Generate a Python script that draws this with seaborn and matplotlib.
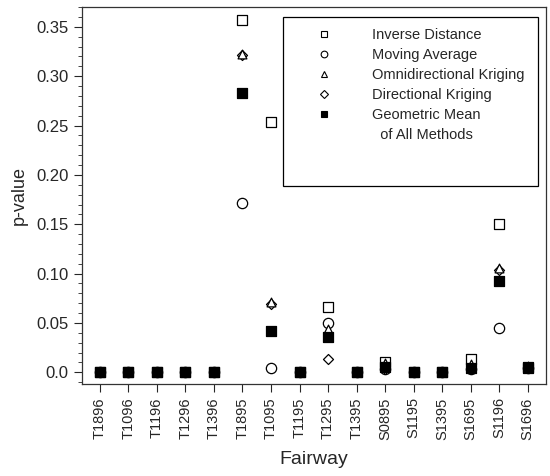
import numpy as np
import pandas as pd
import matplotlib
matplotlib.use("Agg")
import matplotlib.pyplot as plt
import seaborn as sns
from matplotlib.ticker import MultipleLocator, FixedLocator, FixedFormatter
from matplotlib.lines import Line2D
from matplotlib.patches import Rectangle

sns.set_style("ticks")
plt.rcParams["font.family"] = ["Liberation Sans", "DejaVu Sans"]

fairways = ["T1896", "T1096", "T1196", "T1296", "T1396", "T1895", "T1095", "T1195",
            "T1295", "T1395", "S0895", "S1195", "S1395", "S1695", "S1196", "S1696"]
inverse_distance = [0.0, 0.0, 0.0, 0.0, 0.0, 0.357, 0.254, 0.0,
                    0.066, 0.0, 0.010, 0.0, 0.0, 0.013, 0.150, 0.005]
moving_average = [0.0, 0.0, 0.0, 0.0, 0.0, 0.172, 0.004, 0.0,
                  0.050, 0.0, 0.003, 0.0, 0.0, 0.003, 0.045, 0.004]
omni_kriging = [0.0, 0.0, 0.0, 0.0, 0.0, 0.323, 0.071, 0.0,
                0.044, 0.0, 0.009, 0.0, 0.0, 0.008, 0.106, 0.006]
dir_kriging = [0.0, 0.0, 0.0, 0.0, 0.0, 0.321, 0.069, 0.0,
               0.013, 0.0, 0.003, 0.0, 0.0, 0.003, 0.104, 0.004]
geo_mean = [0.0, 0.0, 0.0, 0.0, 0.0, 0.283, 0.042, 0.0,
            0.036, 0.0, 0.005, 0.0, 0.0, 0.004, 0.093, 0.004]

# label, values, marker, face colour, marker area, draw order
series = [
    ("Inverse Distance", inverse_distance, "s", "white", 55, 3),
    ("Moving Average", moving_average, "o", "white", 55, 3),
    ("Omnidirectional Kriging", omni_kriging, "^", "white", 40, 3.2),
    ("Directional Kriging", dir_kriging, "D", "white", 26, 3.1),
    ("Geometric Mean", geo_mean, "s", "black", 60, 3.5),
]

fig = plt.figure(figsize=(5.5, 4.76), dpi=100)
ax = fig.add_axes([0.149, 0.193, 0.844, 0.792])

handles = []
for label, vals, mk, fc, size, z in series:
    df = pd.DataFrame({"Fairway": fairways, "p": vals})
    sns.scatterplot(data=df, x="Fairway", y="p", marker=mk, s=size, color=fc,
                    edgecolor="black", linewidth=0.9, ax=ax, legend=False, zorder=z)
    handles.append(Line2D([], [], linestyle="none", marker=mk,
                          markersize=4 if mk in "^D" else 4.8,
                          markerfacecolor=fc, markeredgecolor="black", markeredgewidth=0.8,
                          label=label))
# second line of the last legend label, no marker
handles.append(Line2D([], [], linestyle="none", label="  of All Methods"))

ax.set_xlim(-0.63, 15.65)
ax.set_ylim(-0.012, 0.370)
yt = [0.0, 0.05, 0.10, 0.15, 0.20, 0.25, 0.30, 0.35]
ax.yaxis.set_major_locator(FixedLocator(yt))
ax.yaxis.set_major_formatter(FixedFormatter(["0.0", "0.05", "0.10", "0.15", "0.20", "0.25", "0.30", "0.35"]))
ax.yaxis.set_minor_locator(MultipleLocator(0.01))
ax.tick_params(axis="x", rotation=90, labelsize=10.5, length=6, width=0.8, direction="out")
ax.tick_params(axis="y", which="major", labelsize=12, length=6, width=0.8, direction="out")
ax.tick_params(axis="y", which="minor", length=3, width=0.6, direction="out")
for sp in ax.spines.values():
    sp.set_visible(True)
    sp.set_linewidth(0.9)
    sp.set_color("#333333")

ax.set_xlabel("Fairway", fontsize=14, labelpad=8)
ax.set_ylabel("p-value", fontsize=13, labelpad=6)

# legend box (larger than its contents, as in the original)
ax.add_patch(Rectangle((0.433, 0.525), 0.55, 0.448, transform=ax.transAxes,
                       facecolor="white", edgecolor="black", linewidth=0.9, zorder=4))
leg = ax.legend(handles=handles, loc="upper left", bbox_to_anchor=(0.497, 0.945),
                frameon=False, fontsize=10.5, handletextpad=2.6, borderpad=0,
                labelspacing=0.42, borderaxespad=0, handlelength=1.5)
leg.set_zorder(5)

fig.savefig("out.png", dpi=100)
